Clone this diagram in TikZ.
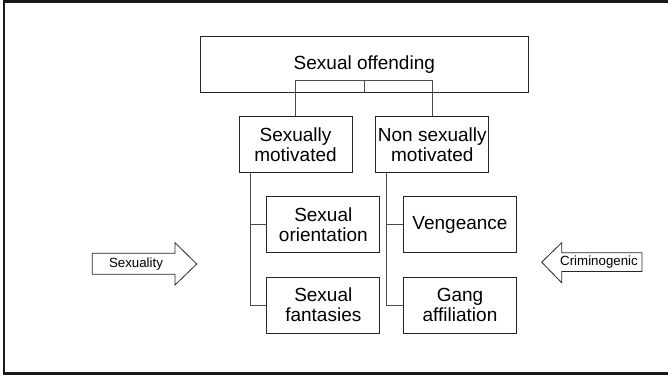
\documentclass[tikz,border=0pt]{standalone}
\usepackage{fontspec}
\setmainfont{Liberation Sans}
\begin{document}
\begin{tikzpicture}[x=1pt,y=-1pt,
  box/.style={draw=black!85, line width=0.9pt, minimum width=113pt, minimum height=56pt,
    inner sep=0pt, align=center, font=\fontsize{19}{20}\selectfont},
  link/.style={draw=black!70, line width=0.9pt},
  bigarrow/.style={draw=black!85, line width=0.8pt, fill=white, line join=miter},
  arrowtext/.style={inner sep=0pt, font=\fontsize{13.3}{14}\selectfont}]
\useasboundingbox (0,0) rectangle (668,376);
% outer frame
\draw[line width=2.6pt, black!90] (4,1.5) rectangle (672,373.6);

% hierarchy boxes
\node[box, minimum width=327.4pt, minimum height=55.6pt] (top) at (364.3,64.5) {Sexual offending};
\node[box] (smot)   at (295.5,144.7) {Sexually\\motivated};
\node[box] (nsmot)  at (432.3,144.7) {Non sexually\\motivated};
\node[box] (orient) at (323.3,224.7) {Sexual\\orientation};
\node[box] (fant)   at (323.3,305.0) {Sexual\\fantasies};
\node[box] (veng)   at (460.0,224.7) {Vengeance};
\node[box] (gang)   at (460.0,305.0) {Gang\\affiliation};

% tree connectors
\coordinate (split) at ([yshift=12.7pt]top.south);
\draw[link] (top.south) -- (split);
\draw[link] (split) -| (smot.north);
\draw[link] (split) -| (nsmot.north);
\coordinate (lspine) at ([xshift=-45.5pt]smot.south);
\coordinate (rspine) at ([xshift=-45.6pt]nsmot.south);
\draw[link] (lspine) |- (orient.west);
\draw[link] (lspine) |- (fant.west);
\draw[link] (rspine) |- (veng.west);
\draw[link] (rspine) |- (gang.west);

% side arrows
\draw[bigarrow] (92.3,253.3) -- (175,253.3) -- (175,242.7) -- (196.7,264)
  -- (175,285) -- (175,274.3) -- (92.3,274.3) -- cycle;
\node[arrowtext] (sexuality) at (136,264) {Sexuality};
\draw[bigarrow] (642,252.7) -- (561.7,252.7) -- (561.7,242.7) -- (541.7,262.2)
  -- (561.7,282.7) -- (561.7,271.4) -- (642,271.4) -- cycle;
\node[arrowtext] (crim) at (599,262) {Criminogenic};
\end{tikzpicture}
\end{document}
